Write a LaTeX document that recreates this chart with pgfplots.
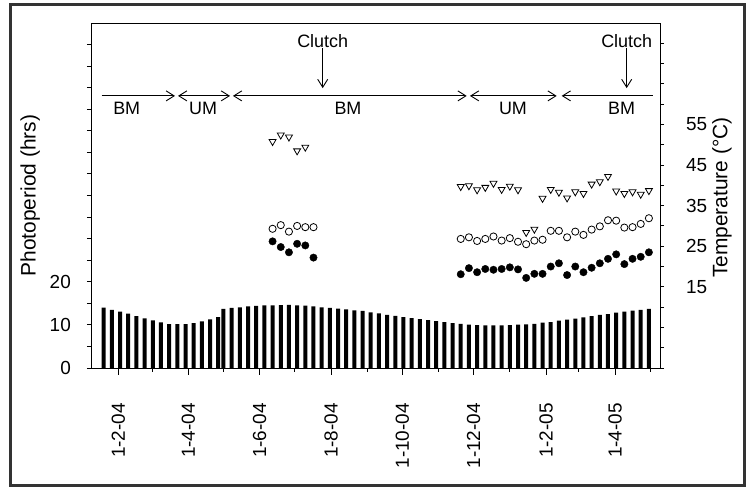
\documentclass[border=0pt]{standalone}
\usepackage{fontspec}
\setmainfont{Liberation Sans}
\usepackage{pgfplots}
\usepackage{pgfplotstable}
\pgfplotsset{compat=1.18}
\usetikzlibrary{arrows.meta}

% x = days counted from 1 Jan 2004
\pgfplotstableread{
day ph
18.5 14.0
25.5 13.5
32.5 13.1
39.5 12.6
46.5 12.05
53.5 11.5
60.5 11.05
67.5 10.6
74.5 10.2
81.5 10.2
88.5 10.2
95.5 10.4
102.5 10.8
109.5 11.3
116.5 11.8
121 13.69
128 13.92
135 14.07
142 14.31
149 14.39
156 14.54
163 14.54
170 14.58
177 14.62
184 14.54
191 14.46
198 14.31
205 14.07
212 13.92
219 13.76
226 13.61
233 13.37
240 13.22
247 12.91
254 12.67
261 12.29
268 12.08
275 11.82
282 11.59
289 11.35
296 11.12
303 10.89
310 10.65
317 10.4
324 10.23
331 10.08
338 9.95
345 9.88
352 9.88
359 9.88
366 9.95
373 10.03
380 10.11
387 10.26
394 10.5
401 10.65
408 10.96
415 11.2
422 11.43
429 11.74
436 12.05
443 12.29
450 12.52
457 12.83
464 13.06
471 13.3
478 13.45
485 13.69
}\photo

\pgfplotstableread{
day tmax tmean tmin
163 50.8 29.3 26.2
170 52.4 30.2 24.8
177 51.9 28.6 23.5
184 48.5 30.0 25.6
191 49.4 29.7 25.2
198 nan 29.7 22.2
324 39.7 26.8 18.1
331 39.9 27.2 19.6
338 38.9 26.3 18.6
345 39.5 26.8 19.4
352 40.5 27.4 19.2
359 39.0 26.4 19.4
366 39.8 27.0 19.8
373 38.9 26.1 19.3
380 28.4 25.5 17.2
387 29.2 26.4 18.2
394 36.8 26.6 18.2
401 39.0 28.8 20.0
408 38.3 28.8 20.8
415 36.9 27.2 17.9
422 38.4 28.6 20.0
429 38.0 27.8 18.6
436 40.3 29.1 19.7
443 40.9 29.9 20.8
450 42.2 31.4 21.9
457 38.6 31.3 23.0
464 38.0 29.6 20.6
471 38.4 29.7 21.9
478 37.8 30.5 22.4
485 38.7 31.9 23.5
}\temps

\pgfplotsset{
  base/.style={
    at={(91bp,119bp)}, anchor=south west,
    scale only axis, width=569bp, height=345bp,
    xmin=7.64, xmax=494.5,
    tick align=outside,
    axis line style={line width=0.9bp},
    every tick/.style={black, line width=0.9bp},
    tick label style={font=\fontsize{19}{19}\selectfont},
    label style={font=\fontsize{21}{21}\selectfont},
  },
}
\tikzset{ann/.style={font=\fontsize{18}{18}\selectfont},
  barb/.tip={Straight Barb[length=8bp,width=10bp,line width=0.9bp]}}

\begin{document}
\begin{tikzpicture}
\path[use as bounding box] (0,0) rectangle (751bp,487bp);
\draw[line width=2.5bp, black!80] (10.7bp,482.7bp) rectangle (744.3bp,1.5bp);

% photoperiod bars, left axis
\begin{axis}[base,
  ymin=0, ymax=80,
  xtick=\empty, ytick pos=left,
  major tick length=4bp,
  ytick={0,5,...,75},
  yticklabels={0,,10,,20,,,,,,,,,,,},
  yticklabel style={anchor=east, inner sep=0pt},
  yticklabel shift=16bp,
  ylabel={Photoperiod (hrs)},
  ylabel style={at={(axis description cs:-0.107,0.5)}, anchor=center},
]
\addplot[ybar, bar width=4bp, fill=black, draw=none] table[x=day, y=ph] {\photo};

\draw[line width=0.9bp, -barb] (axis cs:16.8,63.1) -- (axis cs:79.5,63.1);
\draw[line width=0.9bp, barb-barb] (axis cs:82.1,63.1) -- (axis cs:126.6,63.1);
\draw[line width=0.9bp, barb-barb] (axis cs:129.1,63.1) -- (axis cs:329.1,63.1);
\draw[line width=0.9bp, barb-barb] (axis cs:331.9,63.1) -- (axis cs:406.1,63.1);
\draw[line width=0.9bp, barb-] (axis cs:410.4,63.1) -- (axis cs:488.3,63.1);
\node[ann] at (axis cs:38.2,60.3) {BM};
\node[ann] at (axis cs:103.5,60.3) {UM};
\node[ann] at (axis cs:227.5,60.3) {BM};
\node[ann] at (axis cs:368.7,60.3) {UM};
\node[ann] at (axis cs:461.7,60.3) {BM};
\draw[line width=0.9bp, -barb] (axis cs:205.9,74.2) -- (axis cs:205.9,64.9);
\draw[line width=0.9bp, -barb] (axis cs:466,74.2) -- (axis cs:466,64.9);
\node[ann, anchor=base, inner sep=0pt] at (axis cs:205.9,74.4) {Clutch};
\node[ann, anchor=base, inner sep=0pt] at (axis cs:466,74.4) {Clutch};
\end{axis}

% temperatures, right axis
\begin{axis}[base,
  ymin=-5, ymax=80,
  axis x line=none, axis y line*=right,
  major tick length=4bp,
  ytick={-5,0,...,75},
  yticklabels={,,,,15,,25,,35,,45,,55,,,,},
  yticklabel style={anchor=west, inner sep=0pt},
  yticklabel shift=22bp,
  ylabel={Temperature (°C)},
  ylabel style={at={(axis description cs:1.109,0.494)}, anchor=center},
]
\addplot[only marks, mark=triangle*, mark size=4bp,
  mark options={rotate=180, fill=white, draw=black, line width=0.8bp}]
  table[x=day, y=tmax] {\temps};
\addplot[only marks, mark=*, mark size=3.6bp,
  mark options={fill=white, draw=black, line width=0.8bp}]
  table[x=day, y=tmean] {\temps};
\addplot[only marks, mark=*, mark size=3.7bp,
  mark options={fill=black, draw=black}]
  table[x=day, y=tmin] {\temps};
\end{axis}

% date axis
\begin{axis}[base,
  ymin=0, ymax=80,
  axis y line=none, axis x line*=bottom,
  major tick length=7bp, minor tick length=4bp,
  xtick={31,91,152,213,274,335,397,456},
  xticklabels={1-2-04,1-4-04,1-6-04,1-8-04,1-10-04,1-12-04,1-2-05,1-4-05},
  minor xtick={60,121,182,244,305,366,425,486},
  xticklabel style={rotate=90, anchor=east, inner sep=0pt},
  xticklabel shift=28bp,
]
\end{axis}
\end{tikzpicture}
\end{document}
